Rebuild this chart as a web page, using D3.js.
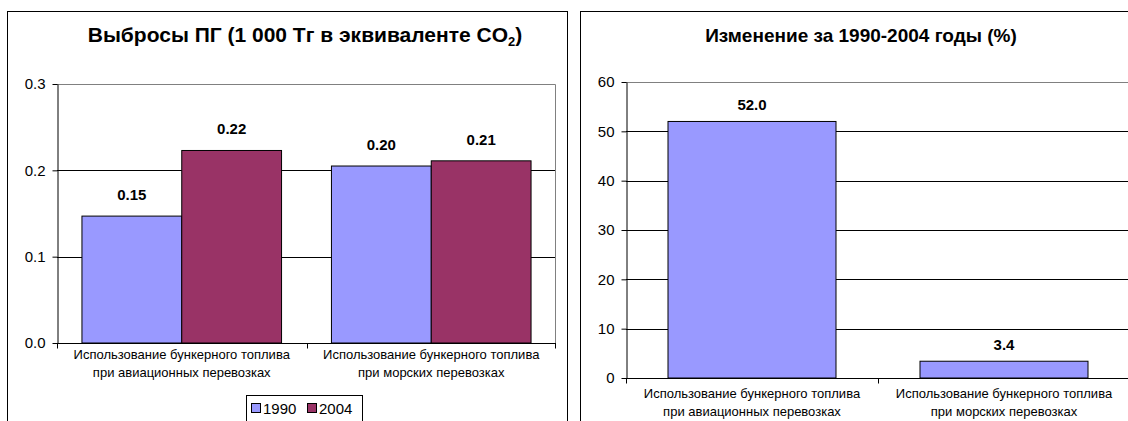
<!DOCTYPE html>
<html>
<head>
<meta charset="utf-8">
<script src="https://cdn.jsdelivr.net/npm/d3@7"></script>
<style>
  body { margin: 0; background: #fff; }
  svg text { font-family: "Liberation Sans", Arial, sans-serif; fill: #000; }
</style>
</head>
<body>
<svg id="chart" width="1128" height="421"></svg>
<script>
// categories (two lines each)
var categories = ["aviation", "marine"];
var categoryLines = [
    ["Использование бункерного топлива", "при авиационных перевозках"],
    ["Использование бункерного топлива", "при морских перевозках"]
];
var years = ["1990", "2004"];
var emissions1990 = [0.147, 0.205];
var emissions2004 = [0.223, 0.211];
var changePercent = [52.0, 3.4];
var emissionTicks = [0, 0.1, 0.2, 0.3];
var changeTicks = [0, 10, 20, 30, 40, 50, 60];
var seriesColors = ["#9999ff", "#993366"];

var svg = d3.select("#chart");

function drawPanel(opts) {
    var g = svg.append("g");

    g.append("rect")
        .attr("x", opts.box[0] + 0.5).attr("y", opts.box[1] + 0.5)
        .attr("width", opts.box[2]).attr("height", opts.box[3])
        .attr("fill", "#fff").attr("stroke", "#000");

    var title = g.append("text")
        .attr("x", opts.titleX).attr("y", opts.titleY)
        .attr("text-anchor", "middle")
        .style("font-size", opts.titleSize + "px").style("font-weight", "bold");
    opts.title.forEach(function(part) {
        var t = title.append("tspan").text(part.text);
        if (part.sub) t.attr("font-size", "13px").attr("dy", 4);
        else if (part.after) t.attr("dy", -4);
    });

    var x = d3.scaleBand().domain(categories).range([opts.left, opts.right]);
    var y = d3.scaleLinear().domain(opts.domain).range([opts.bottom, opts.top]);

    // gridlines
    g.selectAll(".grid")
        .data(opts.ticks.filter(function(t) { return t > opts.domain[0] && t < opts.domain[1]; }))
        .enter().append("line")
        .attr("x1", opts.left).attr("x2", opts.right)
        .attr("y1", function(d) { return Math.round(y(d)) + 0.5; })
        .attr("y2", function(d) { return Math.round(y(d)) + 0.5; })
        .attr("stroke", "#000");

    // plot area border (top + right)
    g.append("path")
        .attr("d", "M" + opts.left + "," + (Math.round(y(opts.domain[1])) + 0.5) +
            "H" + (opts.right - 0.5) + "V" + opts.bottom)
        .attr("fill", "none").attr("stroke", "#808080");

    // bars, gap width 50%: space between clusters is half a bar
    var nSeries = opts.series.length;
    var barW = x.bandwidth() / (nSeries + 0.5);
    opts.series.forEach(function(vals, si) {
        g.selectAll(".bar" + si)
            .data(vals)
            .enter().append("rect")
            .attr("x", function(d, i) { return x(categories[i]) + barW * 0.25 + barW * si; })
            .attr("width", barW)
            .attr("y", function(d) { return y(d); })
            .attr("height", function(d) { return y(0) - y(d); })
            .attr("fill", opts.colors[si])
            .attr("stroke", "#000").attr("stroke-width", 1);

        g.selectAll(".lab" + si)
            .data(vals)
            .enter().append("text")
            .attr("x", function(d, i) { return x(categories[i]) + barW * 0.75 + barW * si; })
            .attr("y", function(d) { return y(d) - opts.labelGap; })
            .attr("text-anchor", "middle")
            .style("font-size", "15px").style("font-weight", "bold")
            .text(function(d) { return d3.format(opts.fmt)(d); });
    });

    // y axis
    var yAxis = g.append("g")
        .attr("transform", "translate(" + (opts.left + 0.5) + ",0)")
        .call(d3.axisLeft(y).tickValues(opts.ticks).tickFormat(d3.format(opts.tickFmt))
            .tickSizeInner(5).tickSizeOuter(0).tickPadding(7));
    yAxis.select(".domain").attr("stroke", "#000");
    yAxis.selectAll(".tick line").attr("stroke", "#000");
    yAxis.selectAll(".tick text")
        .style("font-size", "15px").attr("font-family", null).attr("fill", "#000");

    // x axis
    var base = Math.round(y(0)) + 0.5;
    g.append("line")
        .attr("x1", opts.left).attr("x2", opts.right)
        .attr("y1", base).attr("y2", base).attr("stroke", "#000");
    var bounds = categories.map(function(c) { return x(c); }).concat([opts.right - 1]);
    g.selectAll(".xtick")
        .data(bounds)
        .enter().append("line")
        .attr("x1", function(d) { return Math.round(d) + 0.5; })
        .attr("x2", function(d) { return Math.round(d) + 0.5; })
        .attr("y1", base).attr("y2", base + 5)
        .attr("stroke", "#000");

    categoryLines.forEach(function(lines, i) {
        var t = g.append("text")
            .attr("x", x(categories[i]) + x.bandwidth() / 2)
            .attr("y", base + opts.catY)
            .attr("text-anchor", "middle")
            .style("font-size", "13px");
        lines.forEach(function(line, li) {
            t.append("tspan")
                .attr("x", x(categories[i]) + x.bandwidth() / 2)
                .attr("dy", li === 0 ? 0 : 18)
                .text(line);
        });
    });

    return g;
}

// left panel: emissions
var left = drawPanel({
    box: [7, 11, 560, 420],
    title: [{text: "Выбросы ПГ (1 000 Тг в эквиваленте CO"}, {text: "2", sub: true}, {text: ")", after: true}],
    titleX: 305, titleY: 42, titleSize: 21,
    left: 57, right: 556, top: 84, bottom: 343,
    domain: [0, 0.3], ticks: emissionTicks, tickFmt: ".1f",
    series: [emissions1990, emissions2004], colors: seriesColors,
    fmt: ".2f", labelGap: 16, catY: 15
});

// legend
var legend = left.append("g");
legend.append("rect")
    .attr("x", 246.5).attr("y", 395.5).attr("width", 116).attr("height", 40)
    .attr("fill", "#fff").attr("stroke", "#000");
years.forEach(function(yr, i) {
    var lx = 251 + i * 56;
    legend.append("rect")
        .attr("x", lx + 0.5).attr("y", 403.5).attr("width", 9).attr("height", 9)
        .attr("fill", seriesColors[i]).attr("stroke", "#000");
    legend.append("text")
        .attr("x", lx + 12).attr("y", 414)
        .style("font-size", "15px")
        .text(yr);
});

// right panel: change 1990-2004
drawPanel({
    box: [580, 11, 570, 420],
    title: [{text: "Изменение за 1990-2004 годы (%)"}],
    titleX: 861, titleY: 42, titleSize: 19,
    left: 626, right: 1130, top: 82, bottom: 378,
    domain: [0, 60], ticks: changeTicks, tickFmt: "d",
    series: [changePercent], colors: [seriesColors[0]],
    fmt: ".1f", labelGap: 11, catY: 19
});
</script>
</body>
</html>
